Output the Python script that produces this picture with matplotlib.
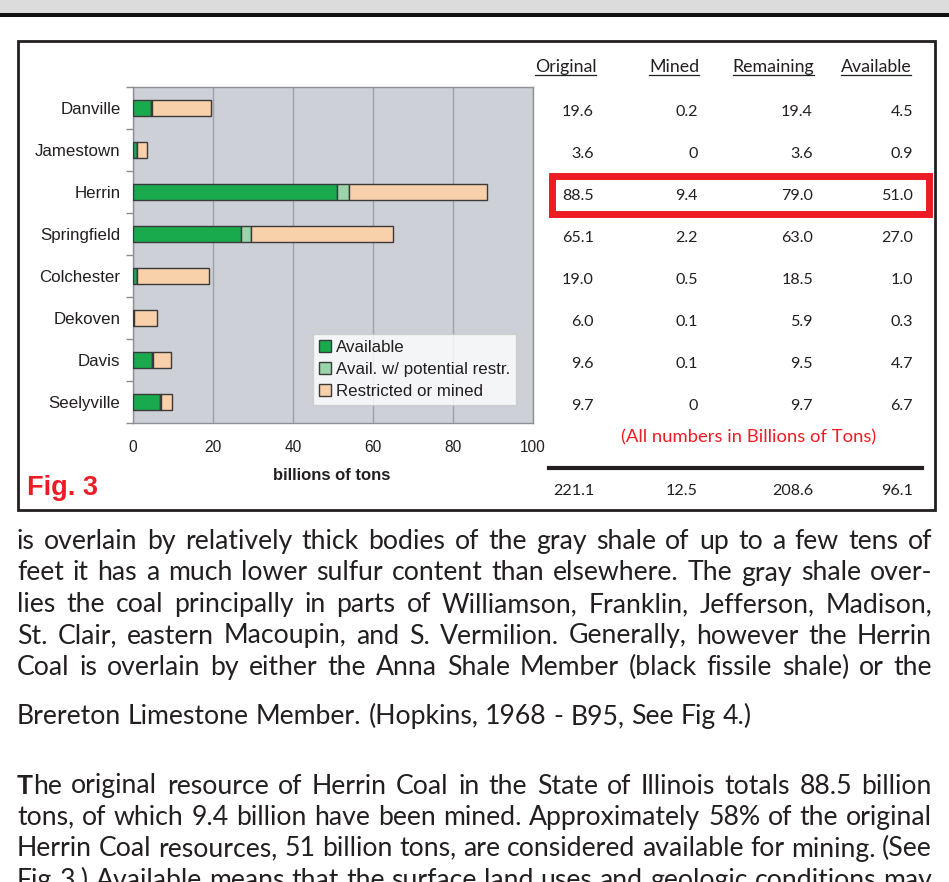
import matplotlib
matplotlib.use("Agg")
import matplotlib.pyplot as plt
import numpy as np
from matplotlib.patches import Rectangle, Patch
from matplotlib.lines import Line2D
import matplotlib.transforms as mtransforms

# ---------------- data ----------------
categories = ["Danville", "Jamestown", "Herrin", "Springfield",
              "Colchester", "Dekoven", "Davis", "Seelyville"]
available = [4.5, 0.9, 51.0, 27.0, 1.0, 0.3, 4.7, 6.7]
avail_restr = [0.3, 0.0, 3.1, 2.6, 0.0, 0.0, 0.4, 0.3]
restricted = [14.8, 2.7, 34.4, 35.5, 18.0, 5.7, 4.5, 2.7]
legend_labels = ["Available", "Avail. w/ potential restr.", "Restricted or mined"]
x_ticks = [0, 20, 40, 60, 80, 100]

table_headers = ["Original", "Mined", "Remaining", "Available"]
col_original = ["19.6", "3.6", "88.5", "65.1", "19.0", "6.0", "9.6", "9.7"]
col_mined = ["0.2", "0", "9.4", "2.2", "0.5", "0.1", "0.1", "0"]
col_remaining = ["19.4", "3.6", "79.0", "63.0", "18.5", "5.9", "9.5", "9.7"]
col_available = ["4.5", "0.9", "51.0", "27.0", "1.0", "0.3", "4.7", "6.7"]
totals = ["221.1", "12.5", "208.6", "96.1"]

body_lines = [
    "is overlain by relatively thick bodies of the gray shale of up to a few tens of",
    "feet it has a much lower sulfur content than elsewhere. The gray shale over-",
    "lies the coal principally in parts of Williamson, Franklin, Jefferson, Madison,",
    "St. Clair, eastern Macoupin, and S. Vermilion. Generally, however the Herrin",
    "Coal is overlain by either the Anna Shale Member (black fissile shale) or the",
    "Brereton Limestone Member. (Hopkins, 1968 - B95, See Fig 4.)",
    "The original resource of Herrin Coal in the State of Illinois totals 88.5 billion",
    "tons, of which 9.4 billion have been mined. Approximately 58% of the original",
    "Herrin Coal resources, 51 billion tons, are considered available for mining. (See",
    "Fig 3.) Available means that the surface land uses and geologic conditions may",
]
body_justify = [True, True, True, True, True, False, True, True, True, True]

# ---------------- styling ----------------
W, H = 949, 882
GREEN = "#1aaa4e"
LGREEN = "#9bd4aa"
PEACH = "#f8d0a9"
EDGE = "#3a3a3a"
TXT = "#231f20"
RED = "#ed1c24"
CHART_FONT = "Liberation Sans"
BODY_FONT = "Lato"

fig = plt.figure(figsize=(W / 100, H / 100), dpi=100)
fig.patch.set_facecolor("white")
renderer = fig.canvas.get_renderer()


def fx(x):
    return x / W


def fy(y):
    return 1 - y / H


# page header band
fig.patches.append(Rectangle((0, fy(13)), 1, 13 / H, transform=fig.transFigure,
                             facecolor="#dcdcdc", edgecolor="none", zorder=0))
fig.patches.append(Rectangle((0, fy(16.8)), 1, 4 / H, transform=fig.transFigure,
                             facecolor="#111111", edgecolor="none", zorder=0))
# figure frame
fig.patches.append(Rectangle((fx(17.5), fy(509.5)), (935 - 17.5) / W, (509.5 - 41.5) / H,
                             transform=fig.transFigure, facecolor="none",
                             edgecolor=TXT, lw=2.0, zorder=1))

# ---------------- bar chart ----------------
ax = fig.add_axes([fx(133), fy(423), 400 / W, 336 / H])
ax.set_facecolor("#cdd0d7")
yy = np.arange(len(categories))
bh = 0.4
a = np.array(available)
b = np.array(avail_restr)
c = np.array(restricted)
ax.barh(yy, a, height=bh, color=GREEN, edgecolor=EDGE, lw=1.0, zorder=3)
ax.barh(yy, b, left=a, height=bh, color=LGREEN, edgecolor=EDGE, lw=1.0, zorder=3)
ax.barh(yy, c, left=a + b, height=bh, color=PEACH, edgecolor=EDGE, lw=1.0, zorder=3)

ax.set_xlim(x_ticks[0], x_ticks[-1])
ax.set_ylim(len(categories) - 0.5, -0.5)
ax.set_xticks(x_ticks)
ax.set_xticklabels([str(t) for t in x_ticks], family=CHART_FONT, fontsize=11.2, color=TXT)
ax.grid(axis="x", color="#9ea1a7", lw=1.0, zorder=0)
ax.set_axisbelow(True)
ax.set_yticks(yy)
ax.set_yticklabels(categories, family=CHART_FONT, fontsize=12.2, color=TXT)
ax.set_yticks(np.arange(-0.5, len(categories)), minor=True)
ax.tick_params(axis="y", which="major", length=0, pad=9)
ax.tick_params(axis="y", which="minor", length=5, width=1, color="#8c8c8c", direction="out")
ax.tick_params(axis="x", length=0, pad=12)
for s in ax.spines.values():
    s.set_color("#8e9096")
    s.set_linewidth(1.0)

ax.set_xlabel("billions of tons", family=CHART_FONT, fontsize=12.0, weight="bold", color=TXT)
ax.xaxis.set_label_coords(0.497, (423 - 476) / 336)
ax.xaxis.label.set_va("center")

handles = [Patch(facecolor=col, edgecolor=EDGE, lw=1.0) for col in (GREEN, LGREEN, PEACH)]
leg = ax.legend(handles, legend_labels, loc="upper left",
                bbox_to_anchor=(fx(313), fy(334)), bbox_transform=fig.transFigure,
                prop={"family": CHART_FONT, "size": 12.2}, frameon=True, fancybox=False,
                borderpad=0.33, labelspacing=0.42, handlelength=0.75, handleheight=0.75,
                handletextpad=0.3, borderaxespad=0)
leg.get_frame().set_edgecolor("#c9c9c9")
leg.get_frame().set_linewidth(1.0)
for t in leg.get_texts():
    t.set_color(TXT)

fig.text(fx(27), fy(495), "Fig. 3", family=CHART_FONT, weight="bold", fontsize=19.5,
         color=RED, ha="left", va="baseline")

# ---------------- table ----------------
row_tr = mtransforms.blended_transform_factory(fig.transFigure, ax.transData)
row_tr = mtransforms.offset_copy(row_tr, fig=fig, x=0, y=-7.5, units="dots")
col_right = [594, 698, 813, 913]
columns = [col_original, col_mined, col_remaining, col_available]
TFS = 11.6
for xr, col in zip(col_right, columns):
    for i, v in enumerate(col):
        fig.text(fx(xr), yy[i], v, transform=row_tr, family=BODY_FONT, fontsize=TFS,
                 color=TXT, ha="right", va="baseline")

header_centers = [565.5, 674, 773.5, 876]
for xc, hname in zip(header_centers, table_headers):
    t = fig.text(fx(xc), fy(72), hname, family=BODY_FONT, fontsize=12.8, color=TXT,
                 ha="center", va="baseline")
    bb = t.get_window_extent(renderer)
    fig.lines.append(Line2D([fx(bb.x0), fx(bb.x1)], [fy(74.5), fy(74.5)],
                            transform=fig.transFigure, color=TXT, lw=0.9))

# highlight box for Herrin row
fig.patches.append(Rectangle((fx(551.5), fy(213.5)), (928.5 - 551.5) / W, (213.5 - 175.5) / H,
                             transform=fig.transFigure, facecolor="none",
                             edgecolor=RED, lw=5.0, zorder=5))

fig.text(fx(749), fy(442), "(All numbers in Billions of Tons)", family=BODY_FONT,
         fontsize=13.3, color=RED, ha="center", va="baseline")
fig.lines.append(Line2D([fx(549), fx(922)], [fy(468), fy(468)], transform=fig.transFigure,
                        color=TXT, lw=3.0))
for xr, v in zip(col_right, totals):
    fig.text(fx(xr), fy(495), v, family=BODY_FONT, fontsize=TFS, color=TXT,
             ha="right", va="baseline")

# ---------------- body text ----------------
body_baselines = [549, 580.5, 612, 643.5, 675, 724, 793.5, 825, 856.5, 888]
XL, XR = 17, 932


def text_w(s, size, weight="normal"):
    t = fig.text(0, 0, s, family=BODY_FONT, fontsize=size, weight=weight)
    w = t.get_window_extent(renderer).width
    t.remove()
    return w


# fit the font so the widest justified line has natural word spacing
base = 16.0
nat = max(text_w(l, base) for l, j in zip(body_lines, body_justify) if j)
BODY_FS = base * (XR - XL + 3) / nat
space_w = text_w("x x", BODY_FS) - text_w("xx", BODY_FS)


def word_parts(word, first_bold):
    if first_bold:
        return [(word[0], "bold"), (word[1:], "normal")]
    return [(word, "normal")]


for li, (line, yb, just) in enumerate(zip(body_lines, body_baselines, body_justify)):
    words = line.split()
    objs, widths = [], []
    for wi, w in enumerate(words):
        bold_first = (li == 6 and wi == 0)
        parts = []
        tot = 0
        for txt, wt in word_parts(w, bold_first):
            t = fig.text(0, fy(yb), txt, family=BODY_FONT, fontsize=BODY_FS, weight=wt,
                         color=TXT, ha="left", va="baseline")
            wdt = t.get_window_extent(renderer).width
            parts.append((t, wdt))
            tot += wdt
        objs.append(parts)
        widths.append(tot)
    if just and len(words) > 1:
        gap = (XR - XL - sum(widths)) / (len(words) - 1)
    else:
        gap = space_w
    x = XL
    for parts, tot in zip(objs, widths):
        xx = x
        for t, wdt in parts:
            t.set_x(fx(xx))
            xx += wdt
        x += tot + gap

fig.savefig("out.png", dpi=100)
